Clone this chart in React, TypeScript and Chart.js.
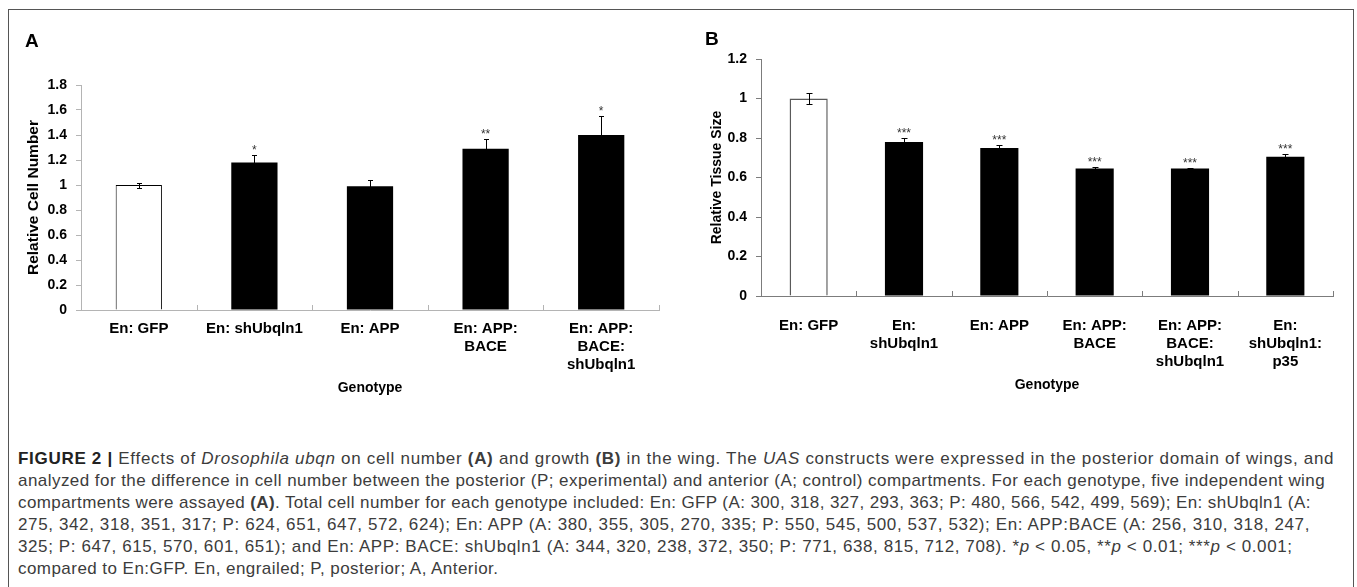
import React, { useEffect, useRef } from "react";
import { Chart, registerables } from "chart.js";
Chart.register(...registerables);

// ---------- Panel A data ----------
const categoriesA: string[][] = [
  ["En: GFP"],
  ["En: shUbqln1"],
  ["En: APP"],
  ["En: APP:", "BACE"],
  ["En: APP:", "BACE:", "shUbqln1"],
];
const valuesA = [1.0, 1.18, 0.99, 1.29, 1.4];
const errorsA = [0.02, 0.06, 0.05, 0.08, 0.155];
const sigA = ["", "*", "", "**", "*"];
const yTicksA = [0, 0.2, 0.4, 0.6, 0.8, 1, 1.2, 1.4, 1.6, 1.8];
const yTickLabelsA = ["0", "0.2", "0.4", "0.6", "0.8", "1", "1.2", "1.4", "1.6", "1.8"];

// ---------- Panel B data ----------
const categoriesB: string[][] = [
  ["En: GFP"],
  ["En:", "shUbqln1"],
  ["En: APP"],
  ["En: APP:", "BACE"],
  ["En: APP:", "BACE:", "shUbqln1"],
  ["En:", "shUbqln1:", "p35"],
];
const valuesB = [1.0, 0.78, 0.75, 0.645, 0.645, 0.705];
const errorsB = [0.028, 0.022, 0.016, 0.008, 0.004, 0.015];
const sigB = ["", "***", "***", "***", "***", "***"];
const yTicksB = [0, 0.2, 0.4, 0.6, 0.8, 1, 1.2];
const yTickLabelsB = ["0", "0.2", "0.4", "0.6", "0.8", "1", "1.2"];

const FONT = "'Liberation Sans', Arial, Helvetica, sans-serif";

function overlayPlugin(errors: number[], sig: string[], tickColor: string, capHalf: number) {
  return {
    id: "overlay",
    afterDatasetsDraw(chart: any) {
      const { ctx, chartArea } = chart;
      const meta = chart.getDatasetMeta(0);
      const xs = chart.scales.x;
      const ys = chart.scales.y;
      const values: number[] = chart.data.datasets[0].data;
      const n = values.length;
      ctx.save();
      // inside tick marks on x axis at category boundaries
      ctx.strokeStyle = tickColor;
      ctx.lineWidth = 1;
      const step = xs.getPixelForValue(1) - xs.getPixelForValue(0);
      for (let i = 1; i <= n; i++) {
        const px = xs.getPixelForValue(i - 1) + step / 2;
        const bx = Math.round(px) + 0.5;
        ctx.beginPath();
        ctx.moveTo(bx, chartArea.bottom);
        ctx.lineTo(bx, chartArea.bottom - 5);
        ctx.stroke();
      }
      // error bars
      ctx.strokeStyle = "#000";
      ctx.lineWidth = 1;
      values.forEach((v, i) => {
        const bar = meta.data[i];
        const cx = Math.round(bar.x) + 0.5;
        const top = Math.round(ys.getPixelForValue(v + errors[i])) + 0.5;
        const bot = Math.round(ys.getPixelForValue(v - errors[i])) + 0.5;
        ctx.beginPath();
        ctx.moveTo(cx, top);
        ctx.lineTo(cx, bot);
        ctx.moveTo(cx - capHalf, top);
        ctx.lineTo(cx + capHalf, top);
        ctx.moveTo(cx - capHalf, bot);
        ctx.lineTo(cx + capHalf, bot);
        ctx.stroke();
      });
      // significance asterisks
      ctx.fillStyle = "#333";
      ctx.font = `12px ${FONT}`;
      ctx.textAlign = "center";
      ctx.textBaseline = "alphabetic";
      values.forEach((v, i) => {
        if (!sig[i]) return;
        const bar = meta.data[i];
        const top = ys.getPixelForValue(v + errors[i]);
        ctx.fillText(sig[i], bar.x, top - 1);
      });
      ctx.restore();
    },
  };
}

type PanelCfg = {
  labels: string[][];
  values: number[];
  errors: number[];
  sig: string[];
  yTicks: number[];
  yTickLabels: string[];
  yMax: number;
  yTitle: string;
  yTitleSize: number;
  yTitlePad: number;
  axisColor: string;
  whiteBorder: string;
  whiteBorderWidth: number;
  padTop: number;
  padRight: number;
  xHeight: number;
  xTickPad: number;
  xTitlePad: number;
  capHalf: number;
};

function makeChart(canvas: HTMLCanvasElement, c: PanelCfg) {
  return new Chart(canvas, {
    type: "bar",
    data: {
      labels: c.labels as any,
      datasets: [
        {
          data: c.values,
          backgroundColor: c.values.map((_, i) => (i === 0 ? "#ffffff" : "#000000")),
          borderColor: c.values.map((_, i) => (i === 0 ? c.whiteBorder : "#000000")),
          borderWidth: c.values.map((_, i) => (i === 0 ? c.whiteBorderWidth : 0)),
          barPercentage: 0.4,
          categoryPercentage: 1,
        },
      ],
    },
    options: {
      animation: false,
      responsive: false,
      maintainAspectRatio: false,
      events: [],
      layout: { padding: { top: c.padTop, right: c.padRight, left: 0, bottom: 0 } },
      plugins: { legend: { display: false }, tooltip: { enabled: false } },
      scales: {
        x: {
          offset: true,
          grid: { display: true, drawOnChartArea: false, drawTicks: false },
          border: { display: true, color: c.axisColor, width: 1 },
          ticks: {
            padding: c.xTickPad,
            color: "#000",
            maxRotation: 0,
            minRotation: 0,
            autoSkip: false,
            font: { family: FONT, size: 15, weight: "bold", lineHeight: 1.2 },
          },
          title: {
            display: true,
            text: "Genotype",
            color: "#000",
            font: { family: FONT, size: 14, weight: "bold", lineHeight: 1.2 },
            padding: { top: 0, bottom: c.xTitlePad },
          },
          afterFit: (s: any) => {
            s.height = c.xHeight;
          },
        } as any,
        y: {
          min: 0,
          max: c.yMax,
          afterBuildTicks: (s: any) => {
            s.ticks = c.yTicks.map((v) => ({ value: v }));
          },
          grid: { display: true, drawOnChartArea: false, drawTicks: true, tickLength: 5, color: c.axisColor },
          border: { display: true, color: c.axisColor, width: 1 },
          ticks: {
            padding: 9,
            color: "#000",
            font: { family: FONT, size: 14, weight: "bold" },
            callback: (v: any) => {
              const idx = c.yTicks.findIndex((t) => Math.abs(t - Number(v)) < 1e-9);
              return idx >= 0 ? c.yTickLabels[idx] : "";
            },
          },
          title: {
            display: true,
            text: c.yTitle,
            color: "#000",
            font: { family: FONT, size: c.yTitleSize, weight: "bold", lineHeight: 1.2 },
            padding: { top: c.yTitlePad, bottom: 0 },
          },
          afterFit: (s: any) => {
            s.width = 81;
          },
        } as any,
      },
    },
    plugins: [overlayPlugin(c.errors, c.sig, c.axisColor, c.capHalf)],
  } as any);
}

export default function App() {
  const refA = useRef<HTMLCanvasElement>(null);
  const refB = useRef<HTMLCanvasElement>(null);

  useEffect(() => {
    const a = makeChart(refA.current!, {
      labels: categoriesA,
      values: valuesA,
      errors: errorsA,
      sig: sigA,
      yTicks: yTicksA,
      yTickLabels: yTickLabelsA,
      yMax: 1.8,
      yTitle: "Relative Cell Number",
      yTitleSize: 15.5,
      yTitlePad: 24.7,
      axisColor: "#b4b4b4",
      whiteBorder: "#000000",
      whiteBorderWidth: 1,
      padTop: 85,
      padRight: 21,
      xHeight: 90,
      xTickPad: 9.5,
      xTitlePad: 3.3,
      capHalf: 2.5,
    });
    const b = makeChart(refB.current!, {
      labels: categoriesB,
      values: valuesB,
      errors: errorsB,
      sig: sigB,
      yTicks: yTicksB,
      yTickLabels: yTickLabelsB,
      yMax: 1.2,
      yTitle: "Relative Tissue Size",
      yTitleSize: 14,
      yTitlePad: 28.5,
      axisColor: "#7c7c7c",
      whiteBorder: "#5a5a5a",
      whiteBorderWidth: 1.5,
      padTop: 59,
      padRight: 24,
      xHeight: 104,
      xTickPad: 20.4,
      xTitlePad: 6.9,
      capHalf: 3,
    });
    return () => {
      a.destroy();
      b.destroy();
    };
  }, []);

  const cap = (ls: number): React.CSSProperties => ({
    whiteSpace: "nowrap",
    height: 22,
    lineHeight: "22px",
    letterSpacing: `${ls}px`,
  });

  return (
    <div
      style={{
        position: "absolute",
        left: 0,
        top: 0,
        width: 1357,
        height: 587,
        overflow: "hidden",
        background: "#fff",
        fontFamily: FONT,
      }}
    >
      <div
        style={{
          position: "absolute",
          left: 8,
          top: 9,
          width: 1344,
          height: 620,
          border: "1px solid #555",
        }}
      />
      <canvas ref={refA} width={680} height={400} style={{ position: "absolute", left: 0, top: 0, width: 680, height: 400 }} />
      <canvas ref={refB} width={677} height={400} style={{ position: "absolute", left: 680, top: 0, width: 677, height: 400 }} />
      <div style={{ position: "absolute", left: 25, top: 30.5, fontSize: 19, lineHeight: "19px", fontWeight: "bold", color: "#000" }}>A</div>
      <div style={{ position: "absolute", left: 705, top: 29.2, fontSize: 19, lineHeight: "19px", fontWeight: "bold", color: "#000" }}>B</div>
      <div style={{ position: "absolute", left: 18, top: 448, fontSize: 17, color: "#3c3c3c" }}>
        <div style={cap(0.7)}>
          <b style={{ color: "#222" }}>FIGURE 2 |</b> Effects of <i>Drosophila ubqn</i> on cell number <b>(A)</b> and growth <b>(B)</b> in the wing. The <i>UAS</i> constructs were expressed in the posterior domain of wings, and
        </div>
        <div style={cap(0.45)}>
          analyzed for the difference in cell number between the posterior (P; experimental) and anterior (A; control) compartments. For each genotype, five independent wing
        </div>
        <div style={cap(0.39)}>
          compartments were assayed <b>(A)</b>. Total cell number for each genotype included: En: GFP (A: 300, 318, 327, 293, 363; P: 480, 566, 542, 499, 569); En: shUbqln1 (A:
        </div>
        <div style={cap(0.62)}>
          275, 342, 318, 351, 317; P: 624, 651, 647, 572, 624); En: APP (A: 380, 355, 305, 270, 335; P: 550, 545, 500, 537, 532); En: APP:BACE (A: 256, 310, 318, 247,
        </div>
        <div style={cap(0.6)}>
          325; P: 647, 615, 570, 601, 651); and En: APP: BACE: shUbqln1 (A: 344, 320, 238, 372, 350; P: 771, 638, 815, 712, 708). *<i>p</i> &lt; 0.05, **<i>p</i> &lt; 0.01; ***<i>p</i> &lt; 0.001;
        </div>
        <div style={cap(0.45)}>compared to En:GFP. En, engrailed; P, posterior; A, Anterior.</div>
      </div>
    </div>
  );
}
